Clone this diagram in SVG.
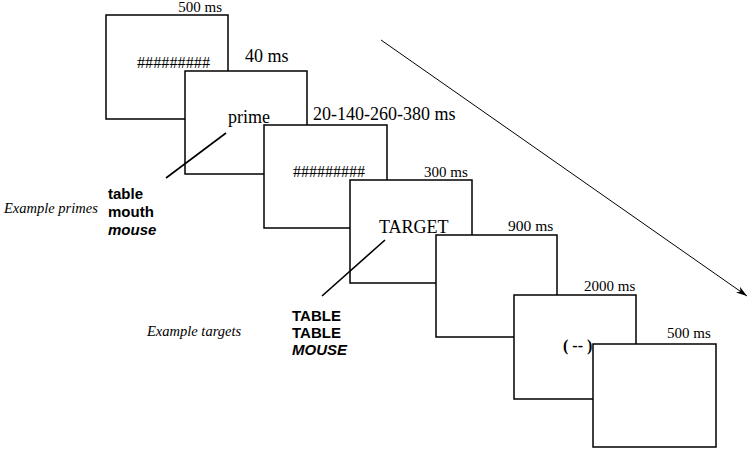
<svg xmlns="http://www.w3.org/2000/svg" width="750" height="454" viewBox="0 0 750 454">
<defs>
<style>
.box{fill:#fff;stroke:#000;stroke-width:1.5}
.lbl{font-family:"Liberation Serif",serif;font-size:15px;fill:#000}
.big{font-family:"Liberation Serif",serif;font-size:18px;fill:#000}
.hash{font-family:"Liberation Serif",serif;font-size:17px;fill:#000}
.ex{font-family:"Liberation Serif",serif;font-size:14.5px;font-style:italic;fill:#000}
.word{font-family:"Liberation Sans",Arial,sans-serif;font-size:15px;font-weight:bold;fill:#000}
.ptr{stroke:#000;stroke-width:1.6;fill:none}
.arr{stroke:#000;stroke-width:1;fill:none}
</style>
<marker id="ah" markerWidth="12" markerHeight="8" refX="11" refY="4" orient="auto" markerUnits="userSpaceOnUse">
<path d="M0,0.5 L11,4 L0,7.5 L3,4 Z" fill="#000"/>
</marker>
</defs>
<rect width="750" height="454" fill="#fff"/>
<g id="frame1">
<rect class="box" x="106" y="15" width="122" height="104"/>
<text class="lbl" x="222" y="12" text-anchor="end">500 ms</text>
<text class="hash" x="137" y="68" textLength="73" lengthAdjust="spacingAndGlyphs">#########</text>
</g>
<g id="frame2">
<rect class="box" x="185" y="71" width="122" height="103"/>
<text class="big" x="245" y="62">40 ms</text>
<text class="big" x="228" y="123">prime</text>
</g>
<g id="frame3">
<rect class="box" x="264" y="125" width="123" height="103"/>
<text class="big" x="313" y="120">20-140-260-380 ms</text>
<text class="hash" x="293" y="177" textLength="72" lengthAdjust="spacingAndGlyphs">#########</text>
</g>
<g id="frame4">
<rect class="box" x="350" y="180" width="122" height="103"/>
<text class="lbl" x="424" y="177">300 ms</text>
<text class="big" x="379" y="233">TARGET</text>
</g>
<g id="frame5">
<rect class="box" x="436" y="235" width="121" height="102"/>
<text class="lbl" x="508" y="231" style="font-size:15.5px">900 ms</text>
</g>
<g id="frame6">
<rect class="box" x="514" y="295" width="122" height="104"/>
<text class="lbl" x="584" y="291">2000 ms</text>
<text class="lbl" x="563" y="351" style="font-weight:bold;font-size:16px">( -- )</text>
</g>
<g id="frame7">
<rect class="box" x="593" y="344" width="123" height="103"/>
<text class="lbl" x="667" y="338">500 ms</text>
</g>
<g id="primes">
<text class="ex" x="4" y="213">Example primes</text>
<text class="word" x="108" y="199">table</text>
<text class="word" x="108" y="217">mouth</text>
<text class="word" x="108" y="235" font-style="italic">mouse</text>
</g>
<g id="targets">
<text class="ex" x="147" y="336">Example targets</text>
<text class="word" x="292" y="321">TABLE</text>
<text class="word" x="292" y="338">TABLE</text>
<text class="word" x="292" y="355" font-style="italic">MOUSE</text>
</g>
<g id="connectors">
<line class="ptr" x1="226" y1="133" x2="166" y2="178"/>
<line class="ptr" x1="385" y1="240" x2="322" y2="296"/>
<line class="arr" x1="381" y1="40" x2="747" y2="296" marker-end="url(#ah)"/>
</g>
</svg>
